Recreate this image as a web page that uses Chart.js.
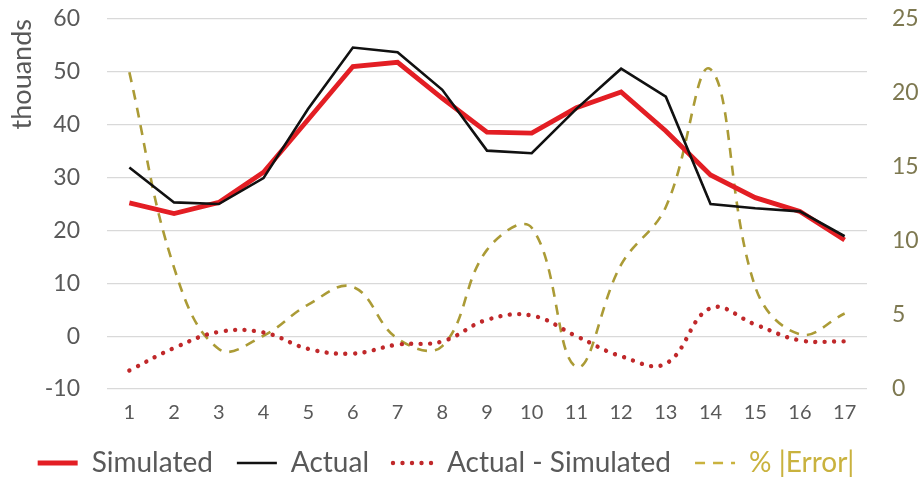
<!DOCTYPE html>
<html>
<head>
<meta charset="utf-8">
<script src="https://cdn.jsdelivr.net/npm/chart.js@4/dist/chart.umd.min.js"></script>
<style>
  html, body { margin: 0; padding: 0; background: #ffffff; }
  #wrap { width: 922px; height: 484px; }
</style>
</head>
<body>
<div id="wrap"><canvas id="c" width="922" height="484"></canvas></div>
<script>
const categories = ['1','2','3','4','5','6','7','8','9','10','11','12','13','14','15','16','17'];
const simulated = [25.2, 23.2, 25.3, 31.0, 41.0, 51.0, 51.8, 45.0, 38.6, 38.4, 43.2, 46.2, 38.8, 30.5, 26.2, 23.6, 18.2];
const actual = [31.9, 25.3, 25.0, 29.9, 43.0, 54.6, 53.7, 46.6, 35.1, 34.6, 43.0, 50.6, 45.3, 25.0, 24.2, 23.6, 18.9];
const actualMinusSimulated = [-6.5, -2.25, 0.8, 0.7, -2.4, -3.3, -1.6, -1.0, 3.1, 3.9, 0.0, -3.8, -5.2, 5.3, 2.2, -0.8, -1.0];
const pctError = [21.4, 8.2, 2.7, 3.6, 5.7, 6.9, 3.4, 2.9, 9.4, 10.9, 1.5, 8.4, 12.3, 21.6, 6.9, 3.7, 5.1];
const leftTicks = [-10, 0, 10, 20, 30, 40, 50, 60];
const rightTicks = [0, 5, 10, 15, 20, 25];

const FONT = 'Lato, "Open Sans", sans-serif';
const GREY = '#595959';
const LEGEND_GOLD = '#c9b23e';

const legendHeightPlugin = {
  id: 'legendHeight',
  beforeUpdate(chart) {
    const lg = chart.legend;
    if (lg && !lg._fixedH) {
      const orig = lg.fit.bind(lg);
      lg.fit = function () { orig(); this.height = 59; };
      lg._fixedH = true;
    }
  }
};

new Chart(document.getElementById('c'), {
  type: 'line',
  data: {
    labels: categories,
    datasets: [
      { label: 'Simulated', data: simulated, yAxisID: 'y', borderColor: '#e31e24', backgroundColor: '#e31e24',
        borderWidth: 4.8, pointRadius: 0, tension: 0, order: 2 },
      { label: 'Actual', data: actual, yAxisID: 'y', borderColor: '#111111', backgroundColor: '#111111',
        borderWidth: 2.6, pointRadius: 0, tension: 0, order: 1 },
      { label: 'Actual - Simulated', data: actualMinusSimulated, yAxisID: 'y', borderColor: '#c0282a', backgroundColor: '#c0282a',
        borderWidth: 4.4, borderDash: [0.01, 9.5], borderCapStyle: 'round', pointRadius: 0, tension: 0.4, order: 3 },
      { label: '% |Error|', data: pctError, yAxisID: 'y2', borderColor: '#ab9b36', backgroundColor: '#ab9b36',
        borderWidth: 2.6, borderDash: [10, 8], pointRadius: 0, tension: 0.4, order: 4 }
    ]
  },
  plugins: [legendHeightPlugin],
  options: {
    responsive: false,
    animation: false,
    layout: { padding: { top: 19, left: 0, right: 30, bottom: 0 } },
    plugins: {
      tooltip: { enabled: false },
      legend: {
        position: 'bottom',
        labels: {
          usePointStyle: true,
          pointStyle: 'line',
          pointStyleWidth: 40,
          boxHeight: 20,
          padding: 24,
          color: GREY,
          font: { family: FONT, size: 28 },
          generateLabels(chart) {
            return chart.data.datasets.map((ds, i) => ({
              text: ds.label,
              datasetIndex: i,
              hidden: false,
              pointStyle: 'line',
              fillStyle: i === 3 ? LEGEND_GOLD : ds.borderColor,
              strokeStyle: i === 3 ? LEGEND_GOLD : ds.borderColor,
              lineWidth: ds.borderWidth,
              lineDash: ds.borderDash || [],
              lineCap: ds.borderCapStyle || 'butt',
              fontColor: i === 3 ? LEGEND_GOLD : GREY
            }));
          }
        }
      }
    },
    scales: {
      x: {
        offset: true,
        afterFit(scale) { scale.height = 36; },
        grid: { display: false, drawTicks: false },
        border: { display: false },
        ticks: { color: GREY, font: { family: FONT, size: 20 }, padding: 12, maxRotation: 0, autoSkip: false }
      },
      y: {
        position: 'left',
        min: -10, max: 60,
        afterBuildTicks(scale) { scale.ticks = leftTicks.map(v => ({ value: v })); },
        afterFit(scale) { scale.width = 107; scale.paddingTop = 14; scale.paddingBottom = 14; },
        grid: { color: '#d9d9d9', lineWidth: 1.2, drawTicks: false },
        border: { display: false },
        ticks: { color: GREY, font: { family: FONT, size: 23 }, padding: 27 },
        title: { display: true, text: 'thouands', align: 'end', color: GREY,
                 font: { family: FONT, size: 27 }, padding: { top: 6, bottom: 0 } }
      },
      y2: {
        position: 'right',
        min: 0, max: 25,
        afterBuildTicks(scale) { scale.ticks = rightTicks.map(v => ({ value: v })); },
        afterFit(scale) {
          scale.width = 25; scale.paddingTop = 14; scale.paddingBottom = 14;
          scale._computeLabelArea = function () { return undefined; };
        },
        grid: { display: false, drawTicks: false },
        border: { display: false },
        ticks: { color: '#7d7850', font: { family: FONT, size: 23 }, padding: 25 }
      }
    }
  }
});
</script>
</body>
</html>
